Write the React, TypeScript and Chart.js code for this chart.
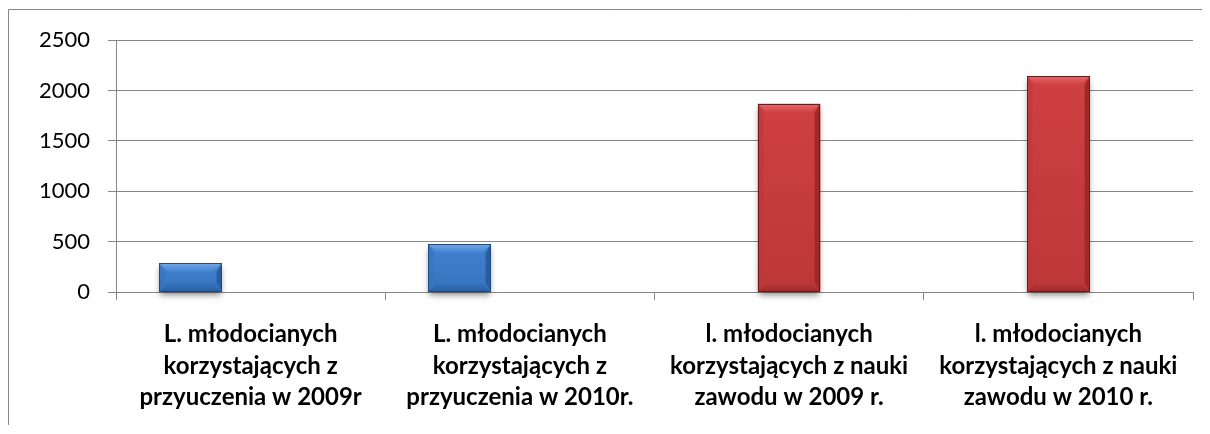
import React, { useEffect, useRef } from "react";
import { Chart, registerables } from "chart.js";

Chart.register(...registerables);

const categories: string[][] = [
  ["L. młodocianych", "korzystających z", "przyuczenia w 2009r"],
  ["L. młodocianych", "korzystających z", "przyuczenia w 2010r."],
  ["l. młodocianych", "korzystających z nauki", "zawodu w 2009 r."],
  ["l. młodocianych", "korzystających z nauki", "zawodu w 2010 r."],
];
const przyuczenieValues: (number | null)[] = [285, 475, null, null];
const naukaZawoduValues: (number | null)[] = [null, null, 1870, 2140];
const emptySeriesValues: (number | null)[] = [null, null, null, null];
const yTickValues: number[] = [0, 500, 1000, 1500, 2000, 2500];

const palettes = [
  { body: "#4281cf", light: "#72a9ea", side: "#3673be", dark: "#2b5d9e", edge: "#1f4a82" },
  { body: "#cf4042", light: "#e8686a", side: "#bd3739", dark: "#9c2a2c", edge: "#6e1a1c" },
];

const framePlugin = {
  id: "frame",
  beforeDraw(chart: any) {
    const ctx = chart.ctx;
    ctx.save();
    ctx.fillStyle = "#fff";
    ctx.fillRect(0, 0, chart.width, chart.height);
    ctx.strokeStyle = "#888";
    ctx.lineWidth = 1;
    ctx.beginPath();
    ctx.moveTo(0.5, chart.height);
    ctx.lineTo(0.5, 0.5);
    ctx.lineTo(chart.width, 0.5);
    ctx.stroke();
    ctx.restore();
  },
};

const bevelPlugin = {
  id: "bevel",
  beforeDatasetsDraw(chart: any) {
    const ctx = chart.ctx;
    chart.data.datasets.forEach((ds: any, di: number) => {
      const meta = chart.getDatasetMeta(di);
      meta.data.forEach((el: any, i: number) => {
        if (ds.data[i] == null) return;
        const { x, y, base, width } = el.getProps(["x", "y", "base", "width"], true);
        ctx.save();
        ctx.shadowColor = "rgba(0,0,0,0.45)";
        ctx.shadowBlur = 6;
        ctx.shadowOffsetY = 3;
        ctx.fillStyle = "#777";
        ctx.fillRect(x - width / 2 + 1, y + 2, width - 2, base - y - 2);
        ctx.restore();
      });
    });
  },
  afterDatasetsDraw(chart: any) {
    const ctx = chart.ctx;
    chart.data.datasets.forEach((ds: any, di: number) => {
      const pal = palettes[di];
      if (!pal) return;
      const meta = chart.getDatasetMeta(di);
      meta.data.forEach((el: any, i: number) => {
        if (ds.data[i] == null) return;
        const { x, y, base, width } = el.getProps(["x", "y", "base", "width"], true);
        const l = Math.round(x - width / 2);
        const r = Math.round(x + width / 2);
        const t = Math.round(y);
        const b = Math.round(base);
        const h = b - t;
        const bev = Math.min(9, h / 3);
        ctx.save();
        const g = ctx.createLinearGradient(0, t, 0, b);
        g.addColorStop(0, pal.body);
        g.addColorStop(1, pal.side);
        ctx.fillStyle = g;
        ctx.fillRect(l, t, r - l, h);
        const gt = ctx.createLinearGradient(0, t, 0, t + bev);
        gt.addColorStop(0, pal.light);
        gt.addColorStop(1, pal.body);
        ctx.fillStyle = gt;
        ctx.beginPath();
        ctx.moveTo(l, t);
        ctx.lineTo(r, t);
        ctx.lineTo(r - bev, t + bev);
        ctx.lineTo(l + bev, t + bev);
        ctx.closePath();
        ctx.fill();
        ctx.fillStyle = pal.side;
        ctx.globalAlpha = 0.6;
        ctx.beginPath();
        ctx.moveTo(l, t);
        ctx.lineTo(l + bev * 0.6, t + bev);
        ctx.lineTo(l + bev * 0.6, b - bev);
        ctx.lineTo(l, b);
        ctx.closePath();
        ctx.fill();
        ctx.globalAlpha = 1;
        ctx.fillStyle = pal.dark;
        ctx.beginPath();
        ctx.moveTo(r, t);
        ctx.lineTo(r - bev * 0.6, t + bev);
        ctx.lineTo(r - bev * 0.6, b - bev);
        ctx.lineTo(r, b);
        ctx.closePath();
        ctx.fill();
        const gb = ctx.createLinearGradient(0, b - bev, 0, b);
        gb.addColorStop(0, pal.side);
        gb.addColorStop(1, pal.dark);
        ctx.fillStyle = gb;
        ctx.beginPath();
        ctx.moveTo(l, b);
        ctx.lineTo(r, b);
        ctx.lineTo(r - bev, b - bev);
        ctx.lineTo(l + bev, b - bev);
        ctx.closePath();
        ctx.fill();
        ctx.strokeStyle = pal.edge;
        ctx.lineWidth = 1;
        ctx.strokeRect(l + 0.5, t + 0.5, r - l - 1, h - 1);
        ctx.restore();
      });
    });
  },
};

export default function App() {
  const canvasRef = useRef<HTMLCanvasElement | null>(null);

  useEffect(() => {
    if (!canvasRef.current) return;
    const gridColor = "#868686";
    const chart = new Chart(canvasRef.current, {
      type: "bar",
      data: {
        labels: categories,
        datasets: [
          { label: "przyuczenie", data: przyuczenieValues, backgroundColor: palettes[0].body, borderWidth: 0 },
          { label: "nauka zawodu", data: naukaZawoduValues, backgroundColor: palettes[1].body, borderWidth: 0 },
          { label: "", data: emptySeriesValues, backgroundColor: "#9bbb59", borderWidth: 0 },
        ],
      },
      options: {
        animation: false,
        responsive: false,
        maintainAspectRatio: false,
        devicePixelRatio: 1,
        categoryPercentage: 0.672,
        barPercentage: 1.037,
        layout: { padding: { top: 30, right: 17, left: 0, bottom: 0 } },
        plugins: {
          legend: { display: false },
          tooltip: { enabled: false },
          title: { display: false },
        },
        scales: {
          x: {
            grid: {
              display: true,
              drawOnChartArea: false,
              drawTicks: true,
              tickLength: 8,
              color: gridColor,
              offset: true,
            },
            border: { display: true, color: gridColor, width: 1 },
            ticks: {
              autoSkip: false,
              maxRotation: 0,
              minRotation: 0,
              color: "#000",
              padding: 19,
              font: { family: "Lato", size: 24, weight: "bold", lineHeight: 1.3 },
            },
            afterFit(scale: any) {
              scale.height = 133;
            },
          },
          y: {
            min: 0,
            max: 2500,
            afterBuildTicks(scale: any) {
              scale.ticks = yTickValues.map((v) => ({ value: v }));
            },
            grid: { color: gridColor, lineWidth: 1, drawTicks: true, tickLength: 8 },
            border: { display: true, color: gridColor, width: 1 },
            ticks: {
              color: "#000",
              padding: 18,
              font: { family: "Lato", size: 22 },
              callback: (v: any) => String(v),
            },
            afterFit(scale: any) {
              scale.width = 108;
            },
          },
        },
      },
      plugins: [framePlugin, bevelPlugin],
    } as any);
    return () => chart.destroy();
  }, []);

  return (
    <div style={{ paddingTop: 1 }}>
      <canvas ref={canvasRef} width={1202} height={416} style={{ display: "block" }} />
    </div>
  );
}
